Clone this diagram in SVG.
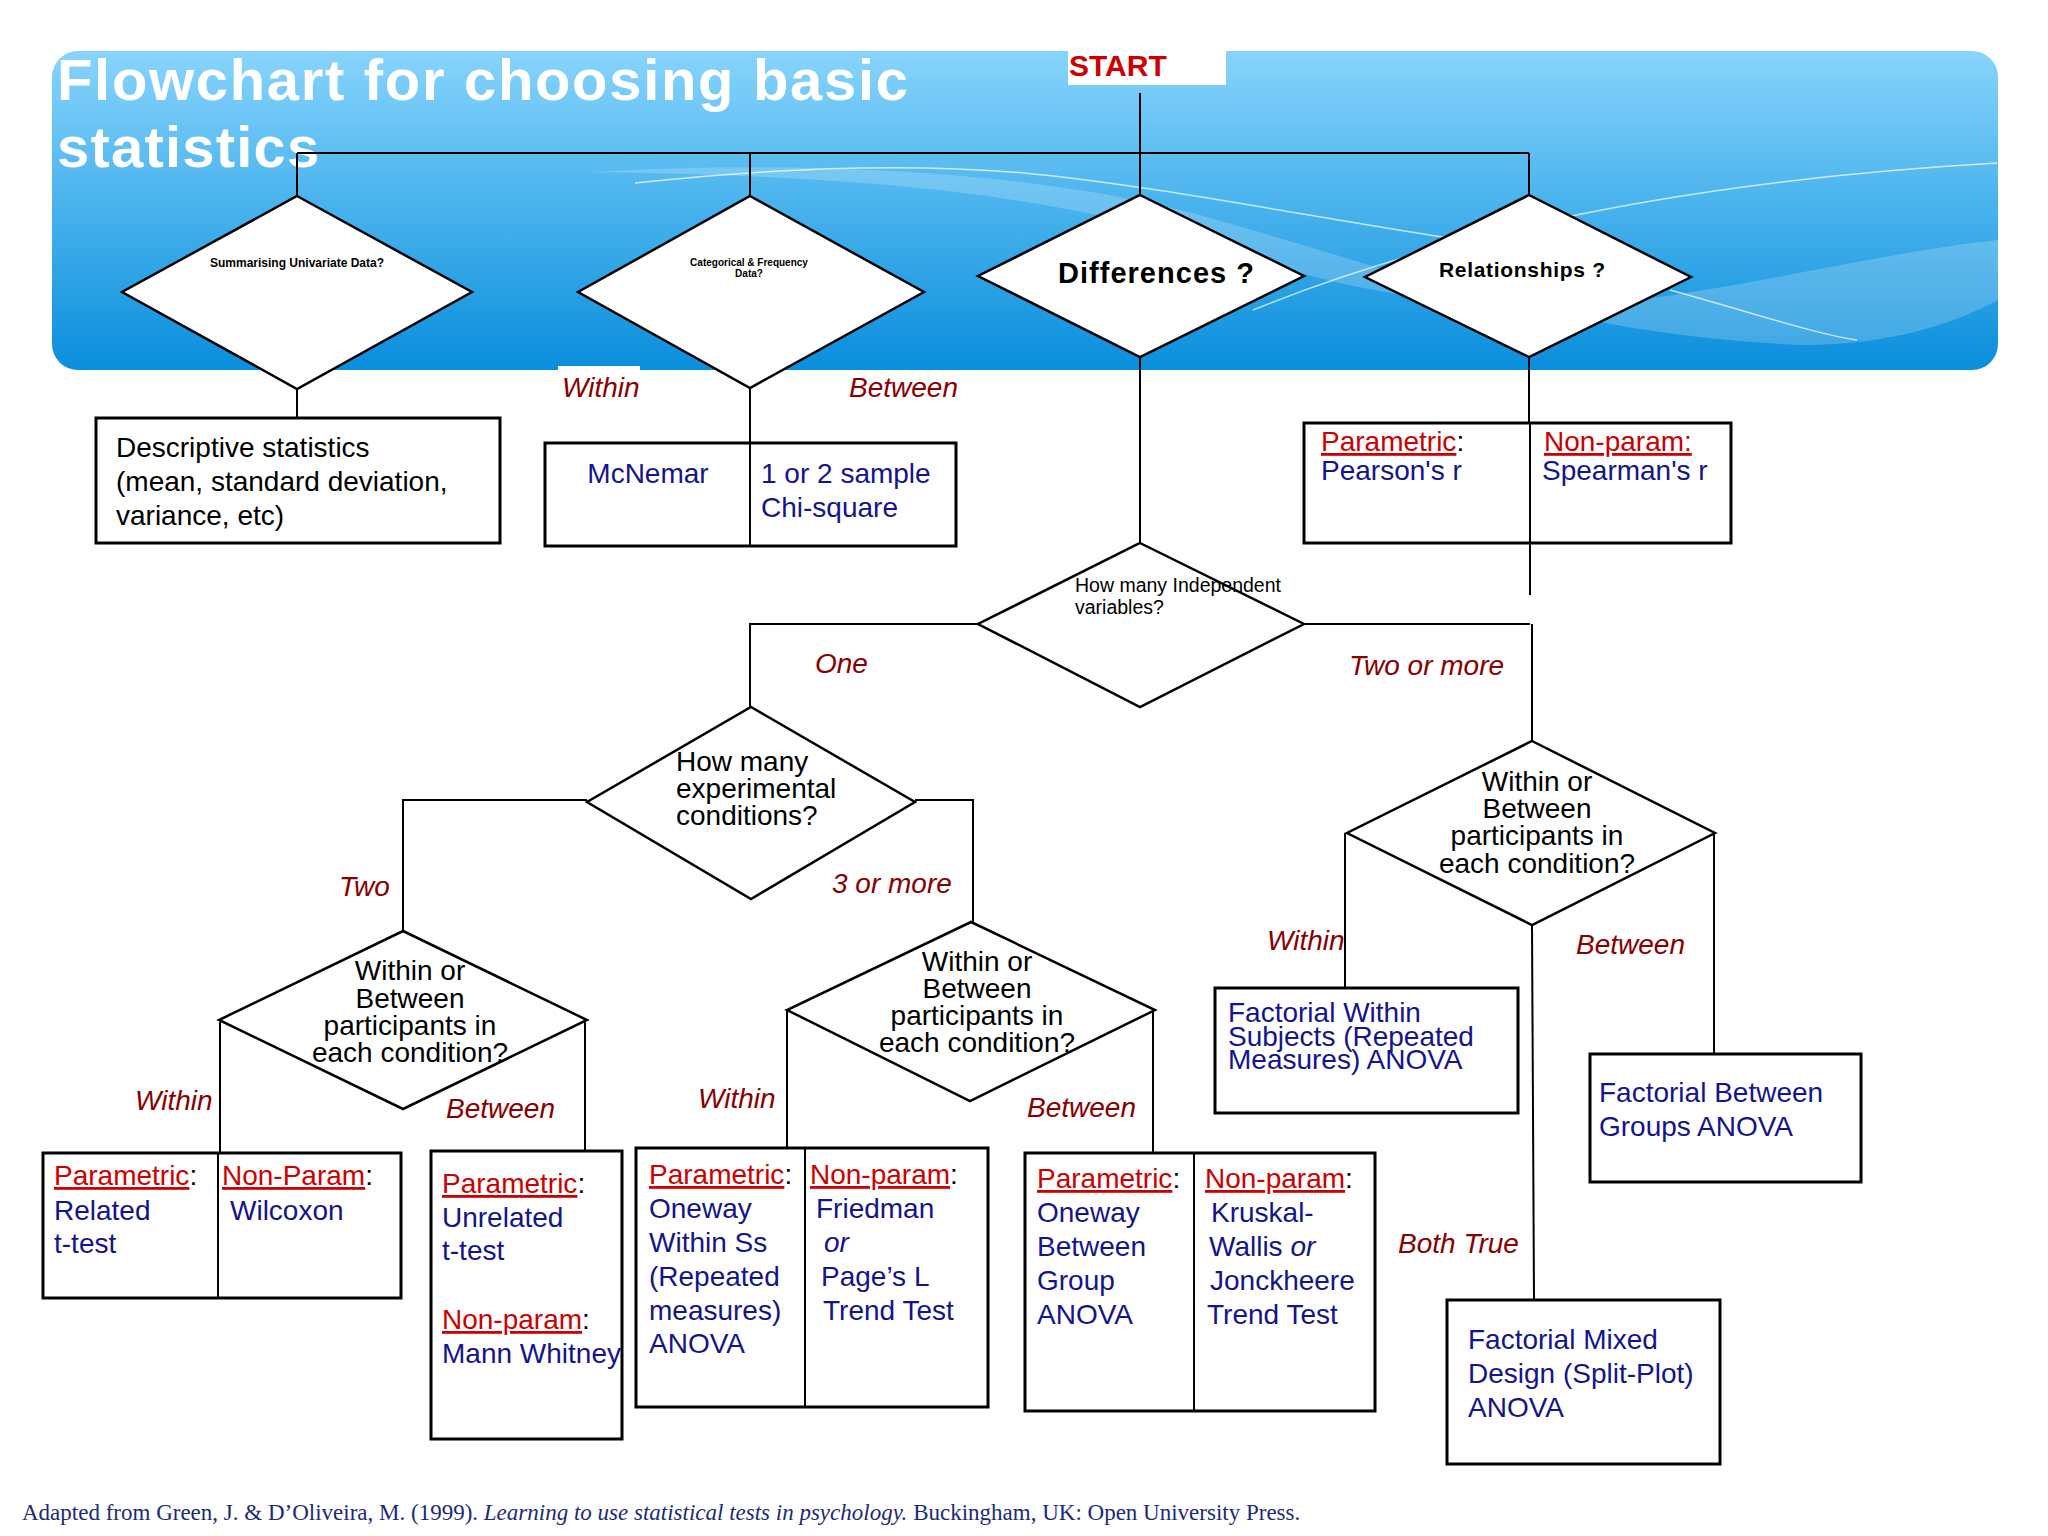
<svg xmlns="http://www.w3.org/2000/svg" width="2048" height="1536" viewBox="0 0 2048 1536">
<defs>
<linearGradient id="bg" x1="0" y1="0" x2="0" y2="1">
<stop offset="0" stop-color="#88d4fc"/>
<stop offset="0.45" stop-color="#4db5ee"/>
<stop offset="1" stop-color="#0a8edc"/>
</linearGradient>
</defs>
<style>
.ln{stroke:#000;stroke-width:2;fill:none}
.dia{fill:#fff;stroke:#000;stroke-width:2.5}
.box{fill:#fff;stroke:#000;stroke-width:3}
.t{font-family:"Liberation Sans",Arial,sans-serif}
.blk{fill:#000;font-size:28px}
.blu{fill:#14148c;font-size:28px}
.red{fill:#cc0000;text-decoration:underline}
.k{fill:#000}
.lab{fill:#880000;font-size:28px;font-style:italic}
.q{fill:#000;font-weight:bold}
</style>
<rect width="2048" height="1536" fill="#fff"/>
<g id="banner">
<rect x="52" y="51" width="1946" height="319" rx="26" ry="26" fill="url(#bg)"/>
<path d="M590,172 C800,160 1030,170 1200,215 C1380,265 1560,335 1800,345 C1900,345 1960,320 1998,300 L1998,240 C1900,250 1780,280 1640,300 C1480,320 1330,290 1180,235 C1000,185 800,175 590,172 Z" fill="#fff" opacity="0.2"/>
<path d="M635,183 C800,165 930,165 1024,173 C1150,185 1300,215 1442,237 C1560,258 1620,275 1660,290" stroke="#fff" stroke-width="1.5" fill="none" opacity="0.7"/>
<path d="M1253,310 C1450,230 1700,180 1997,163" stroke="#fff" stroke-width="1.5" fill="none" opacity="0.7"/>
<path d="M1670,290 C1760,315 1820,335 1857,340" stroke="#fff" stroke-width="1.5" fill="none" opacity="0.7"/>
<text class="t" x="57" y="100" font-size="58" font-weight="bold" fill="#fff" textLength="851" lengthAdjust="spacing">Flowchart for choosing basic</text>
<text class="t" x="57" y="167" font-size="58" font-weight="bold" fill="#fff" letter-spacing="1.2">statistics</text>
<rect x="558" y="366" width="82" height="6" fill="#fff"/>
</g>
<g id="start">
<rect x="1068" y="51" width="158" height="34" fill="#fff"/>
<text class="t" x="1069" y="76" font-size="30" font-weight="bold" fill="#cc0000">START</text>
</g>
<g id="connectors">
<path class="ln" d="M1140,93 V195"/>
<path class="ln" d="M297,153 H1529 M297,153 V196 M750,153 V196 M1529,153 V195"/>
<path class="ln" d="M297,389 V418"/>
<path class="ln" d="M750,388 V443"/>
<path class="ln" d="M1140,357 V543"/>
<path class="ln" d="M1529,357 V423 M1530,543 V595"/>
<path class="ln" d="M978,624 H750 V707"/>
<path class="ln" d="M1304,624 H1530 M1532,624 V741"/>
<path class="ln" d="M587,800 H403 V931"/>
<path class="ln" d="M915,800 H973 V922"/>
<path class="ln" d="M220,1022 V1153"/>
<path class="ln" d="M585,1022 V1151"/>
<path class="ln" d="M787,1010 V1148"/>
<path class="ln" d="M1153,1010 V1153"/>
<path class="ln" d="M1345,833 V988"/>
<path class="ln" d="M1714,833 V1054"/>
<path class="ln" d="M1532,925 L1534,1300"/>
</g>
<g id="labels">
<text class="t lab" x="562" y="397">Within</text>
<text class="t lab" x="849" y="397">Between</text>
<text class="t lab" x="815" y="673">One</text>
<text class="t lab" x="1349" y="675">Two or more</text>
<text class="t lab" x="339" y="896">Two</text>
<text class="t lab" x="832" y="893">3 or more</text>
<text class="t lab" x="135" y="1110">Within</text>
<text class="t lab" x="446" y="1118">Between</text>
<text class="t lab" x="698" y="1108">Within</text>
<text class="t lab" x="1027" y="1117">Between</text>
<text class="t lab" x="1267" y="950">Within</text>
<text class="t lab" x="1576" y="954">Between</text>
<text class="t lab" x="1398" y="1253">Both True</text>
</g>
<g id="n-summ">
<polygon class="dia" points="297,196 472,292 297,389 122,292"/>
<text class="t q" x="297" y="267" font-size="12" text-anchor="middle">Summarising Univariate Data?</text>
</g>
<g id="n-cat">
<polygon class="dia" points="750,196 924,292 750,388 578,292"/>
<text class="t q" x="749" y="266" font-size="10" text-anchor="middle">Categorical &amp; Frequency</text>
<text class="t q" x="749" y="277" font-size="10" text-anchor="middle">Data?</text>
</g>
<g id="n-diff">
<polygon class="dia" points="1140,195 1304,276 1140,357 978,276"/>
<text class="t q" x="1156" y="283" font-size="29" text-anchor="middle" textLength="196" lengthAdjust="spacing">Differences ?</text>
</g>
<g id="n-rel">
<polygon class="dia" points="1529,195 1691,277 1529,357 1365,277"/>
<text class="t q" x="1522" y="277" font-size="21" text-anchor="middle" textLength="166" lengthAdjust="spacing">Relationships ?</text>
</g>
<g id="n-desc">
<rect class="box" x="96" y="418" width="404" height="125"/>
<text class="t blk" x="116" y="457">Descriptive statistics</text>
<text class="t blk" x="116" y="491">(mean, standard deviation,</text>
<text class="t blk" x="116" y="525">variance, etc)</text>
</g>
<g id="n-chi">
<rect class="box" x="545" y="443" width="411" height="103"/>
<path class="ln" d="M750,443 V546" stroke-width="3"/>
<text class="t blu" x="648" y="483" text-anchor="middle">McNemar</text>
<text class="t blu" x="761" y="483">1 or 2 sample</text>
<text class="t blu" x="761" y="517">Chi-square</text>
</g>
<g id="n-corr">
<rect class="box" x="1304" y="423" width="427" height="120"/>
<path class="ln" d="M1530,423 V543" stroke-width="2.5"/>
<text class="t blu" x="1321" y="451"><tspan class="red">Parametric</tspan><tspan class="k">:</tspan></text>
<text class="t blu" x="1321" y="480">Pearson's r</text>
<text class="t blu" x="1544" y="451"><tspan class="red">Non-param:</tspan></text>
<text class="t blu" x="1542" y="480">Spearman's r</text>
</g>
<g id="n-indep">
<polygon class="dia" points="1140,543 1304,624 1140,707 978,624"/>
<text class="t k" x="1075" y="592" font-size="19.5">How many Independent</text>
<text class="t k" x="1075" y="614" font-size="19.5">variables?</text>
</g>
<g id="n-cond">
<polygon class="dia" points="751,707 915,802 751,899 587,802"/>
<text class="t blk" x="676" y="771">How many</text>
<text class="t blk" x="676" y="798">experimental</text>
<text class="t blk" x="676" y="825">conditions?</text>
</g>
<g id="n-wb1">
<polygon class="dia" points="403,931 587,1020 403,1109 219,1020"/>
<text class="t blk" x="410" y="980" text-anchor="middle">Within or</text>
<text class="t blk" x="410" y="1008" text-anchor="middle">Between</text>
<text class="t blk" x="410" y="1035" text-anchor="middle">participants in</text>
<text class="t blk" x="410" y="1062" text-anchor="middle">each condition?</text>
</g>
<g id="n-wb2">
<polygon class="dia" points="971,922 1155,1010 970,1101 787,1010"/>
<text class="t blk" x="977" y="971" text-anchor="middle">Within or</text>
<text class="t blk" x="977" y="998" text-anchor="middle">Between</text>
<text class="t blk" x="977" y="1025" text-anchor="middle">participants in</text>
<text class="t blk" x="977" y="1052" text-anchor="middle">each condition?</text>
</g>
<g id="n-wb3">
<polygon class="dia" points="1532,741 1715,833 1532,925 1347,833"/>
<text class="t blk" x="1537" y="791" text-anchor="middle">Within or</text>
<text class="t blk" x="1537" y="818" text-anchor="middle">Between</text>
<text class="t blk" x="1537" y="845" text-anchor="middle">participants in</text>
<text class="t blk" x="1537" y="873" text-anchor="middle">each condition?</text>
</g>
<g id="n-ttest-rel">
<rect class="box" x="43" y="1153" width="358" height="145"/>
<path class="ln" d="M218,1153 V1298" stroke-width="2.5"/>
<text class="t blu" x="54" y="1185"><tspan class="red">Parametric</tspan><tspan class="k">:</tspan></text>
<text class="t blu" x="54" y="1220">Related</text>
<text class="t blu" x="54" y="1253">t-test</text>
<text class="t blu" x="222" y="1185"><tspan class="red">Non-Param</tspan><tspan class="k">:</tspan></text>
<text class="t blu" x="230" y="1220">Wilcoxon</text>
</g>
<g id="n-ttest-unrel">
<rect class="box" x="431" y="1151" width="191" height="288"/>
<text class="t blu" x="442" y="1193"><tspan class="red">Parametric</tspan><tspan class="k">:</tspan></text>
<text class="t blu" x="442" y="1227">Unrelated</text>
<text class="t blu" x="442" y="1260">t-test</text>
<text class="t blu" x="442" y="1329"><tspan class="red">Non-param</tspan><tspan class="k">:</tspan></text>
<text class="t blu" x="442" y="1363">Mann Whitney</text>
</g>
<g id="n-anova-within">
<rect class="box" x="636" y="1148" width="352" height="259"/>
<path class="ln" d="M805,1148 V1407" stroke-width="2.5"/>
<text class="t blu" x="649" y="1184"><tspan class="red">Parametric</tspan><tspan class="k">:</tspan></text>
<text class="t blu" x="649" y="1218">Oneway</text>
<text class="t blu" x="649" y="1252">Within Ss</text>
<text class="t blu" x="649" y="1286">(Repeated</text>
<text class="t blu" x="649" y="1320">measures)</text>
<text class="t blu" x="649" y="1353">ANOVA</text>
<text class="t blu" x="810" y="1184"><tspan class="red">Non-param</tspan><tspan class="k">:</tspan></text>
<text class="t blu" x="816" y="1218">Friedman</text>
<text class="t blu" x="824" y="1252" font-style="italic">or</text>
<text class="t blu" x="821" y="1286">Page’s L</text>
<text class="t blu" x="823" y="1320">Trend Test</text>
</g>
<g id="n-anova-between">
<rect class="box" x="1025" y="1153" width="350" height="258"/>
<path class="ln" d="M1194,1153 V1411" stroke-width="2.5"/>
<text class="t blu" x="1037" y="1188"><tspan class="red">Parametric</tspan><tspan class="k">:</tspan></text>
<text class="t blu" x="1037" y="1222">Oneway</text>
<text class="t blu" x="1037" y="1256">Between</text>
<text class="t blu" x="1037" y="1290">Group</text>
<text class="t blu" x="1037" y="1324">ANOVA</text>
<text class="t blu" x="1205" y="1188"><tspan class="red">Non-param</tspan><tspan class="k">:</tspan></text>
<text class="t blu" x="1211" y="1222">Kruskal-</text>
<text class="t blu" x="1209" y="1256">Wallis <tspan font-style="italic">or</tspan></text>
<text class="t blu" x="1210" y="1290">Jonckheere</text>
<text class="t blu" x="1207" y="1324">Trend Test</text>
</g>
<g id="n-fact-within">
<rect class="box" x="1215" y="988" width="303" height="125"/>
<text class="t blu" x="1228" y="1022">Factorial Within</text>
<text class="t blu" x="1228" y="1046">Subjects (Repeated</text>
<text class="t blu" x="1228" y="1069">Measures) ANOVA</text>
</g>
<g id="n-fact-between">
<rect class="box" x="1590" y="1054" width="271" height="128"/>
<text class="t blu" x="1599" y="1102">Factorial Between</text>
<text class="t blu" x="1599" y="1136">Groups ANOVA</text>
</g>
<g id="n-fact-mixed">
<rect class="box" x="1447" y="1300" width="273" height="164"/>
<text class="t blu" x="1468" y="1349">Factorial Mixed</text>
<text class="t blu" x="1468" y="1383">Design (Split-Plot)</text>
<text class="t blu" x="1468" y="1417">ANOVA</text>
</g>
<g id="footer">
<text x="22" y="1520" font-family="'Liberation Serif','Times New Roman',serif" font-size="23" fill="#1c2a78">Adapted from Green, J. &amp; D’Oliveira, M. (1999). <tspan font-style="italic">Learning to use statistical tests in psychology.</tspan> Buckingham, UK: Open University Press.</text>
</g>
</svg>
